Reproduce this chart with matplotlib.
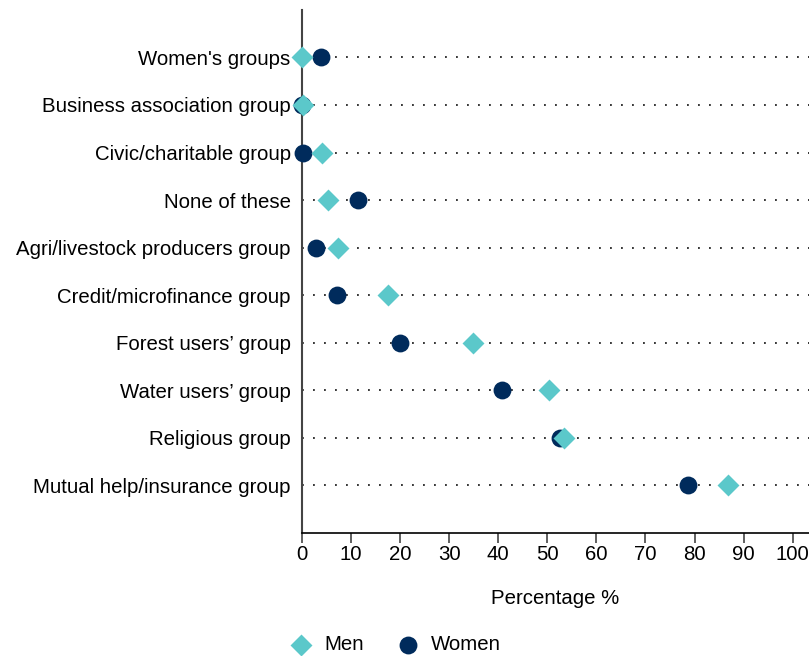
import matplotlib
matplotlib.use("Agg")
import matplotlib.pyplot as plt

plt.rcParams['font.family'] = ['Liberation Sans', 'DejaVu Sans']

# categories from top to bottom
groups = ["Women's groups", "Business association group", "Civic/charitable group",
          "None of these", "Agri/livestock producers group", "Credit/microfinance group",
          "Forest users\u2019 group", "Water users\u2019 group", "Religious group",
          "Mutual help/insurance group"]
men = [0.0, 0.3, 4.1, 5.3, 7.3, 17.5, 34.8, 50.3, 53.4, 86.8]
women = [3.9, 0.0, 0.2, 11.4, 2.9, 7.1, 20.0, 40.7, 52.5, 78.6]
xticks = list(range(0, 101, 10))

men_color = "#5BC8CA"
women_color = "#002B5C"
fs = 14.7

fig = plt.figure(figsize=(8.09, 6.56), dpi=100)
ax = fig.add_axes([0.373, 0.1875, 0.627, 0.7975])

ypos = list(range(len(groups)))

# dotted guide lines
for y in ypos:
    ax.plot([0, 104], [y, y], color="black", linestyle=(0, (1.2, 6.0)), linewidth=1.1, zorder=1)

ax.scatter(women, ypos, marker="o", s=165, color=women_color, zorder=3,
           clip_on=False, label="Women", linewidths=0)
ax.scatter(men, ypos, marker="D", s=125, color=men_color, zorder=4,
           clip_on=False, label="Men", linewidths=0)

ax.set_xlim(0, 103.3)
ax.set_ylim(10, -1)
ax.set_yticks(ypos)
ax.set_yticklabels(groups, fontsize=fs)
ax.tick_params(axis="y", length=0, pad=8)
ax.set_xticks(xticks)
ax.set_xticklabels([str(t) for t in xticks], fontsize=fs)
ax.tick_params(axis="x", length=7, width=1.2, color="#444444", pad=2)
ax.set_xlabel("Percentage %", fontsize=fs, labelpad=18)

ax.spines["top"].set_visible(False)
ax.spines["right"].set_visible(False)
ax.spines["left"].set_color("#444444")
ax.spines["left"].set_linewidth(1.5)
ax.spines["bottom"].set_color("black")
ax.spines["bottom"].set_linewidth(1.2)

handles, labels = ax.get_legend_handles_labels()
fig.legend(handles[::-1], labels[::-1], loc="lower left", bbox_to_anchor=(0.33, -0.025),
           ncol=2, frameon=False, fontsize=fs, handletextpad=0.4, columnspacing=1.4,
           handlelength=1.5)

fig.savefig("out.png", dpi=100)
